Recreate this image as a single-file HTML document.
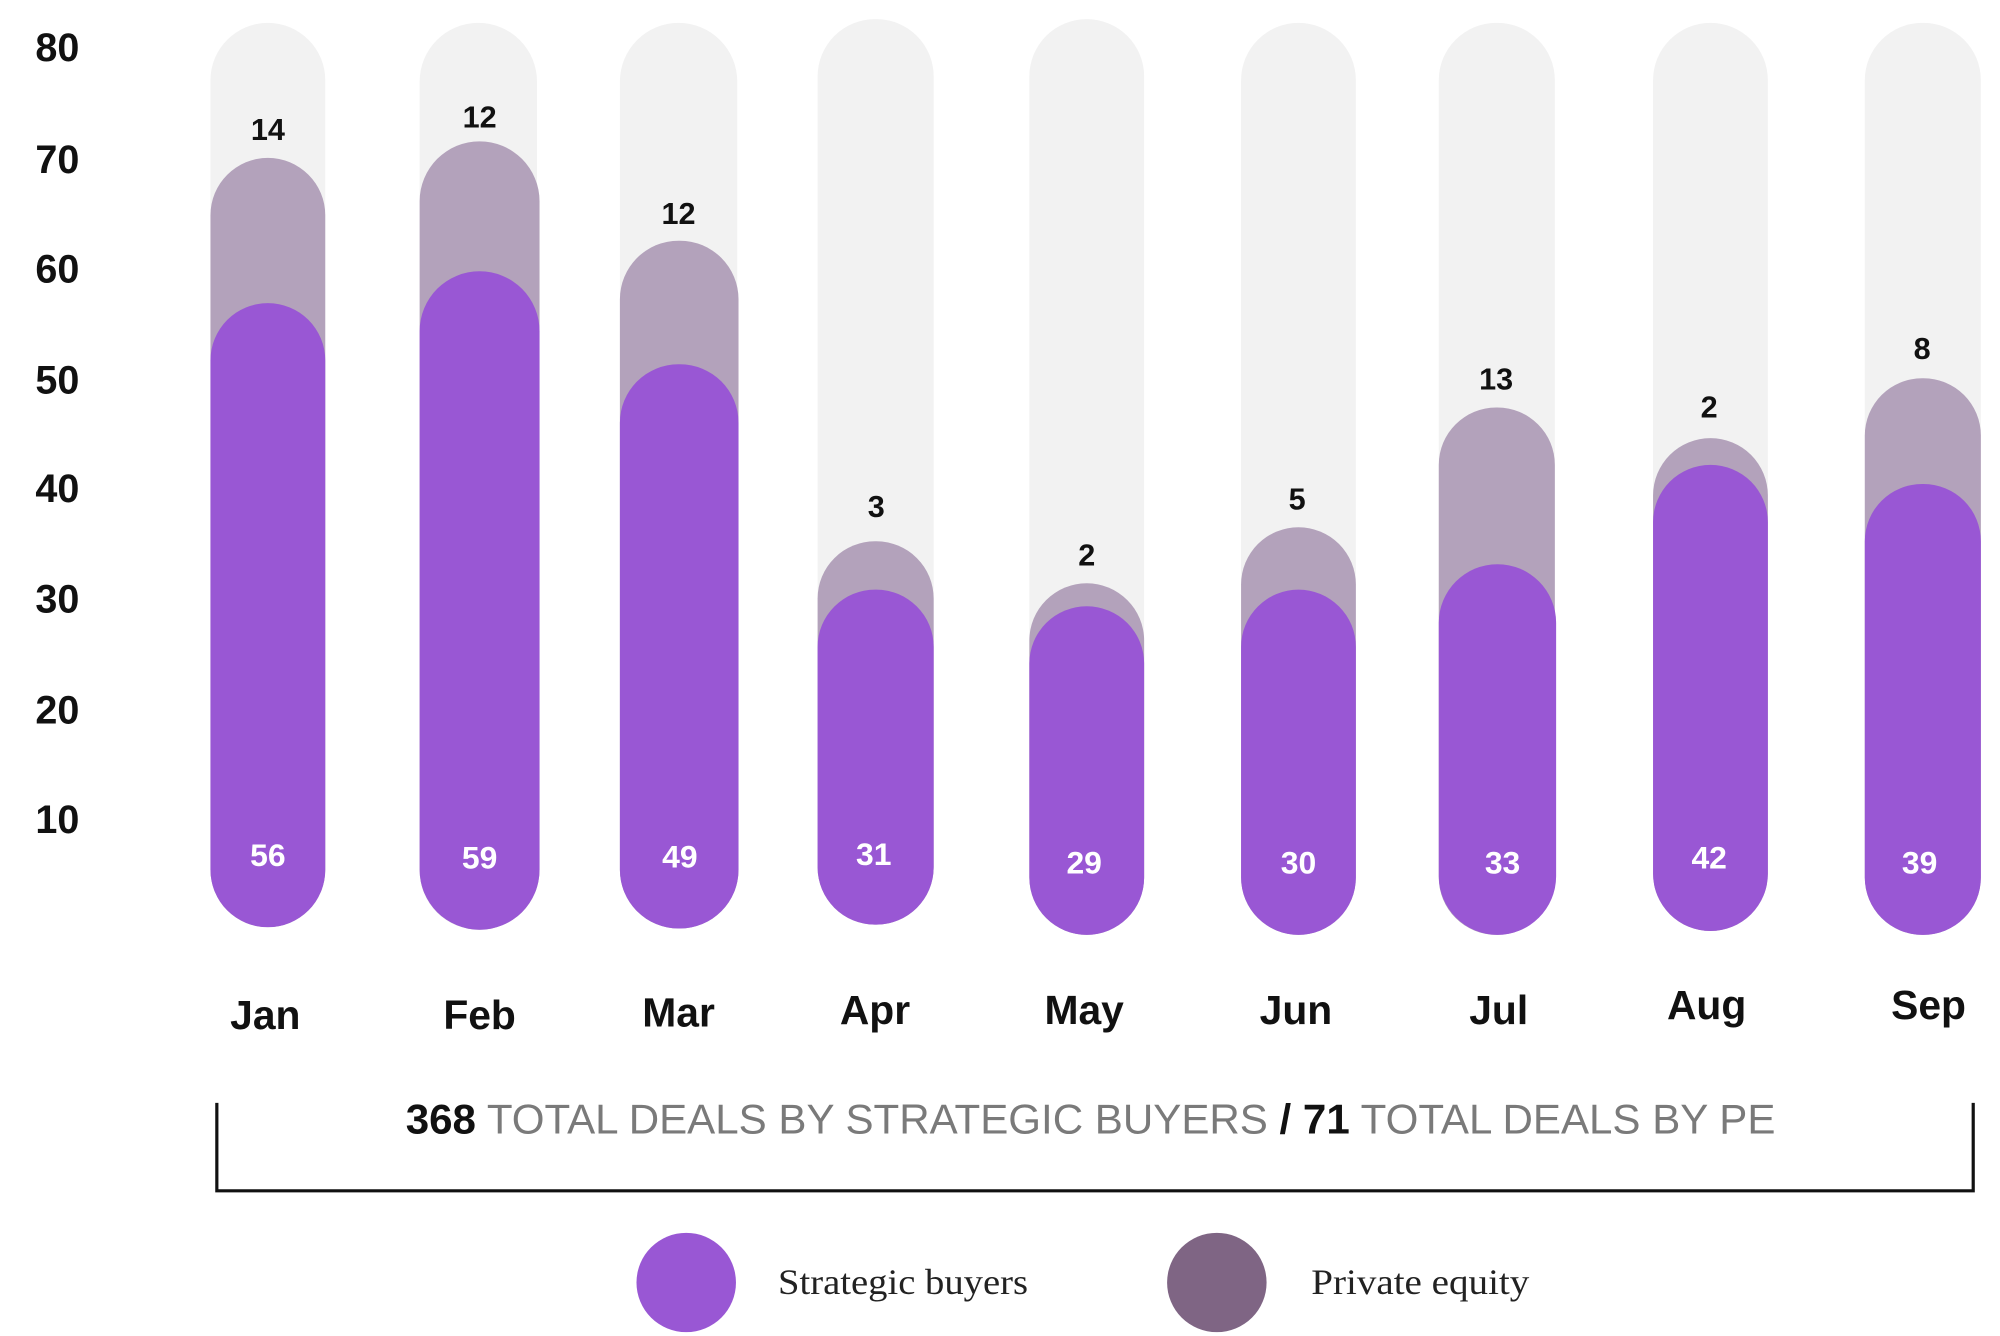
<!DOCTYPE html>
<html><head><meta charset="utf-8"><style>
html,body{margin:0;padding:0;background:#fff;}
svg{display:block;}
</style></head><body>
<svg width="2000" height="1336" viewBox="0 0 1568 1049" preserveAspectRatio="none" xmlns="http://www.w3.org/2000/svg">
<rect width="1568" height="1049" fill="#fff"/>
<g font-family="Liberation Sans, sans-serif" font-weight="bold" font-size="31" fill="#111" text-anchor="middle">
<text x="45" y="48">80</text><text x="45" y="136">70</text><text x="45" y="222">60</text><text x="45" y="309">50</text>
<text x="45" y="394">40</text><text x="45" y="481">30</text><text x="45" y="568">20</text><text x="45" y="654">10</text>
</g>
<g>
<rect x="165" y="18" width="90" height="710" rx="45" fill="#f2f2f2"/>
<rect x="165" y="124" width="90" height="604" rx="45" fill="#b3a2bb"/>
<rect x="165" y="238" width="90" height="490" rx="45" fill="#9957d4"/>
<rect x="329" y="18" width="92" height="712" rx="46" fill="#f2f2f2"/>
<rect x="329" y="111" width="94" height="619" rx="47" fill="#b3a2bb"/>
<rect x="329" y="213" width="94" height="517" rx="47" fill="#9957d4"/>
<rect x="486" y="18" width="92" height="711" rx="46" fill="#f2f2f2"/>
<rect x="486" y="189" width="93" height="540" rx="46" fill="#b3a2bb"/>
<rect x="486" y="286" width="93" height="443" rx="46" fill="#9957d4"/>
<rect x="641" y="15" width="91" height="711" rx="45" fill="#f2f2f2"/>
<rect x="641" y="425" width="91" height="301" rx="45" fill="#b3a2bb"/>
<rect x="641" y="463" width="91" height="263" rx="45" fill="#9957d4"/>
<rect x="807" y="15" width="90" height="719" rx="45" fill="#f2f2f2"/>
<rect x="807" y="458" width="90" height="276" rx="45" fill="#b3a2bb"/>
<rect x="807" y="476" width="90" height="258" rx="45" fill="#9957d4"/>
<rect x="973" y="18" width="90" height="716" rx="45" fill="#f2f2f2"/>
<rect x="973" y="414" width="90" height="320" rx="45" fill="#b3a2bb"/>
<rect x="973" y="463" width="90" height="271" rx="45" fill="#9957d4"/>
<rect x="1128" y="18" width="91" height="716" rx="45" fill="#f2f2f2"/>
<rect x="1128" y="320" width="91" height="414" rx="45" fill="#b3a2bb"/>
<rect x="1128" y="443" width="92" height="291" rx="46" fill="#9957d4"/>
<rect x="1296" y="18" width="90" height="713" rx="45" fill="#f2f2f2"/>
<rect x="1296" y="344" width="90" height="387" rx="45" fill="#b3a2bb"/>
<rect x="1296" y="365" width="90" height="366" rx="45" fill="#9957d4"/>
<rect x="1462" y="18" width="91" height="716" rx="45" fill="#f2f2f2"/>
<rect x="1462" y="297" width="91" height="437" rx="45" fill="#b3a2bb"/>
<rect x="1462" y="380" width="91" height="354" rx="45" fill="#9957d4"/>
</g>
<g font-family="Liberation Sans, sans-serif" font-weight="bold" font-size="24" fill="#111" text-anchor="middle">
<text x="210" y="110">14</text><text x="376" y="100">12</text><text x="532" y="176">12</text>
<text x="687" y="406">3</text><text x="852" y="444">2</text><text x="1017" y="400">5</text>
<text x="1173" y="306">13</text><text x="1340" y="328">2</text><text x="1507" y="282">8</text>
</g>
<g font-family="Liberation Sans, sans-serif" font-weight="bold" font-size="25" fill="#fff" text-anchor="middle">
<text x="210" y="680">56</text><text x="376" y="682">59</text><text x="533" y="681">49</text>
<text x="685" y="679">31</text><text x="850" y="686">29</text><text x="1018" y="686">30</text>
<text x="1178" y="686">33</text><text x="1340" y="682">42</text><text x="1505" y="686">39</text>
</g>
<g font-family="Liberation Sans, sans-serif" font-weight="bold" font-size="32" fill="#111" text-anchor="middle">
<text x="208" y="808">Jan</text><text x="376" y="808">Feb</text><text x="532" y="806">Mar</text>
<text x="686" y="804">Apr</text><text x="850" y="804">May</text><text x="1016" y="804">Jun</text>
<text x="1175" y="804">Jul</text><text x="1338" y="800">Aug</text><text x="1512" y="800">Sep</text>
</g>
<path d="M170 866 V935 H1547 V866" fill="none" stroke="#111" stroke-width="2.5"/>
<text x="855" y="890" text-anchor="middle" font-family="Liberation Sans, sans-serif" font-size="33" fill="#7a7a7a"><tspan font-weight="bold" fill="#111">368</tspan> TOTAL DEALS BY STRATEGIC BUYERS <tspan font-weight="bold" fill="#111">/ 71</tspan> TOTAL DEALS BY PE</text>
<circle cx="538" cy="1007" r="39" fill="#9957d4"/>
<circle cx="954" cy="1007" r="39" fill="#7f6584"/>
<g font-family="Liberation Serif, serif" font-size="28" fill="#222">
<text x="610" y="1016" textLength="196" lengthAdjust="spacingAndGlyphs">Strategic buyers</text>
<text x="1028" y="1016" textLength="171" lengthAdjust="spacingAndGlyphs">Private equity</text>
</g>
</svg>
</body></html>
